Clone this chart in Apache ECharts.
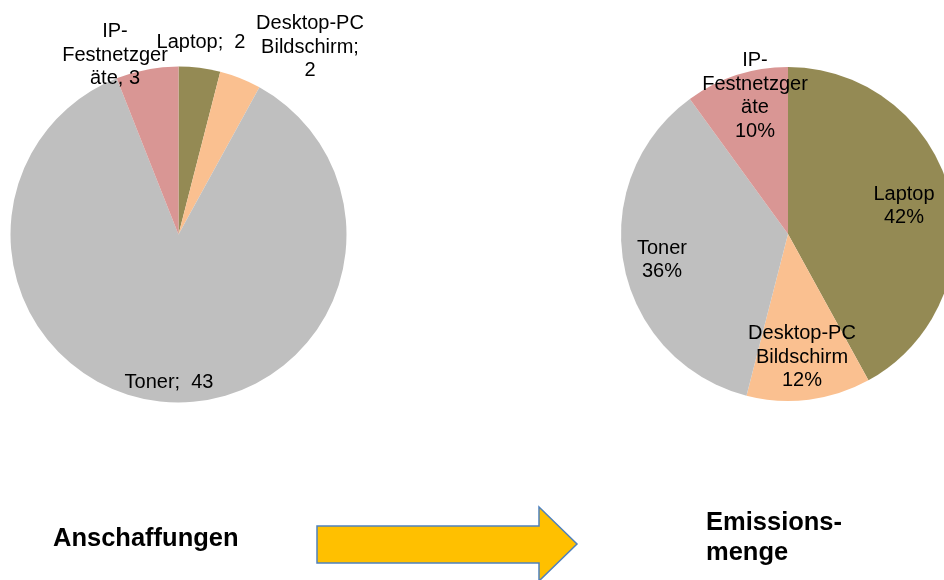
<!DOCTYPE html>
<html>
<head>
<meta charset="utf-8">
<script src="https://cdn.jsdelivr.net/npm/echarts@6/dist/echarts.min.js"></script>
<style>
  html, body { margin: 0; padding: 0; background: #fff; }
  #chart { width: 944px; height: 580px; }
</style>
</head>
<body>
<div id="chart"></div>
<script>
// Device categories, in drawing order (clockwise from 12 o'clock)
const categories = ['Laptop', 'Desktop-PC Bildschirm', 'Toner', 'IP-Festnetzgeräte'];

// Number of purchases per category
const purchases = [2, 2, 43, 3];

// Share of emissions per category, in percent
const emissionShares = [42, 12, 36, 10];

// Label texts as they wrap on the chart
const purchaseLabels = ['Laptop;  ', 'Desktop-PC\nBildschirm;\n', 'Toner;  ', 'IP-\nFestnetzger\näte, '];
const emissionLabels = ['Laptop\n', 'Desktop-PC\nBildschirm\n', 'Toner\n', 'IP-\nFestnetzger\näte\n'];

const sliceColors = ['#948A54', '#FAC090', '#BFBFBF', '#D99694'];

// Label anchor points (label block centres) for each pie
const labelAnchors = [
  [[201, 42], [310, 47], [169, 382], [115, 55]],
  [[904, 206], [802, 357], [662, 260], [755, 96]]
];

const FONT = '"Liberation Sans", Arial, sans-serif';

function pieData(values) {
  return categories.map((name, i) => ({
    name: name,
    value: values[i],
    itemStyle: { color: sliceColors[i] }
  }));
}

const labelStyle = {
  show: true,
  position: 'inside',
  color: '#000',
  fontFamily: FONT,
  fontSize: 20,
  lineHeight: 23.5,
  align: 'center',
  textBorderWidth: 0
};

const chart = echarts.init(document.getElementById('chart'), null, { renderer: 'canvas' });

chart.setOption({
  animation: false,
  backgroundColor: '#ffffff',
  series: [
    {
      type: 'pie',
      center: [178.5, 234.5],
      radius: 168,
      startAngle: 90,
      clockwise: true,
      avoidLabelOverlap: false,
      silent: true,
      itemStyle: { borderWidth: 0 },
      label: Object.assign({}, labelStyle, {
        formatter: p => purchaseLabels[p.dataIndex] + p.value
      }),
      labelLine: { show: false },
      labelLayout: p => ({
        x: labelAnchors[0][p.dataIndex][0],
        y: labelAnchors[0][p.dataIndex][1],
        align: 'center',
        verticalAlign: 'middle'
      }),
      data: pieData(purchases)
    },
    {
      type: 'pie',
      center: [788, 234],
      radius: 167,
      startAngle: 90,
      clockwise: true,
      avoidLabelOverlap: false,
      silent: true,
      itemStyle: { borderWidth: 0 },
      label: Object.assign({}, labelStyle, {
        formatter: p => emissionLabels[p.dataIndex] + p.value + '%'
      }),
      labelLine: { show: false },
      labelLayout: p => ({
        x: labelAnchors[1][p.dataIndex][0],
        y: labelAnchors[1][p.dataIndex][1],
        align: 'center',
        verticalAlign: 'middle'
      }),
      data: pieData(emissionShares)
    }
  ],
  graphic: [
    {
      type: 'text',
      x: 53,
      y: 539,
      style: {
        text: 'Anschaffungen',
        font: 'bold 25.5px ' + FONT,
        fill: '#000',
        verticalAlign: 'middle'
      },
      silent: true
    },
    {
      type: 'text',
      x: 706,
      y: 538,
      style: {
        text: 'Emissions-\nmenge',
        font: 'bold 25.5px ' + FONT,
        lineHeight: 30,
        fill: '#000',
        verticalAlign: 'middle'
      },
      silent: true
    },
    {
      // block arrow between the two pies
      type: 'polygon',
      shape: {
        points: [[317, 526], [539, 526], [539, 507], [577, 544], [539, 581], [539, 563], [317, 563]]
      },
      style: { fill: '#FFC000', stroke: '#4F81BD', lineWidth: 1.5 },
      silent: true
    }
  ]
});
</script>
</body>
</html>
